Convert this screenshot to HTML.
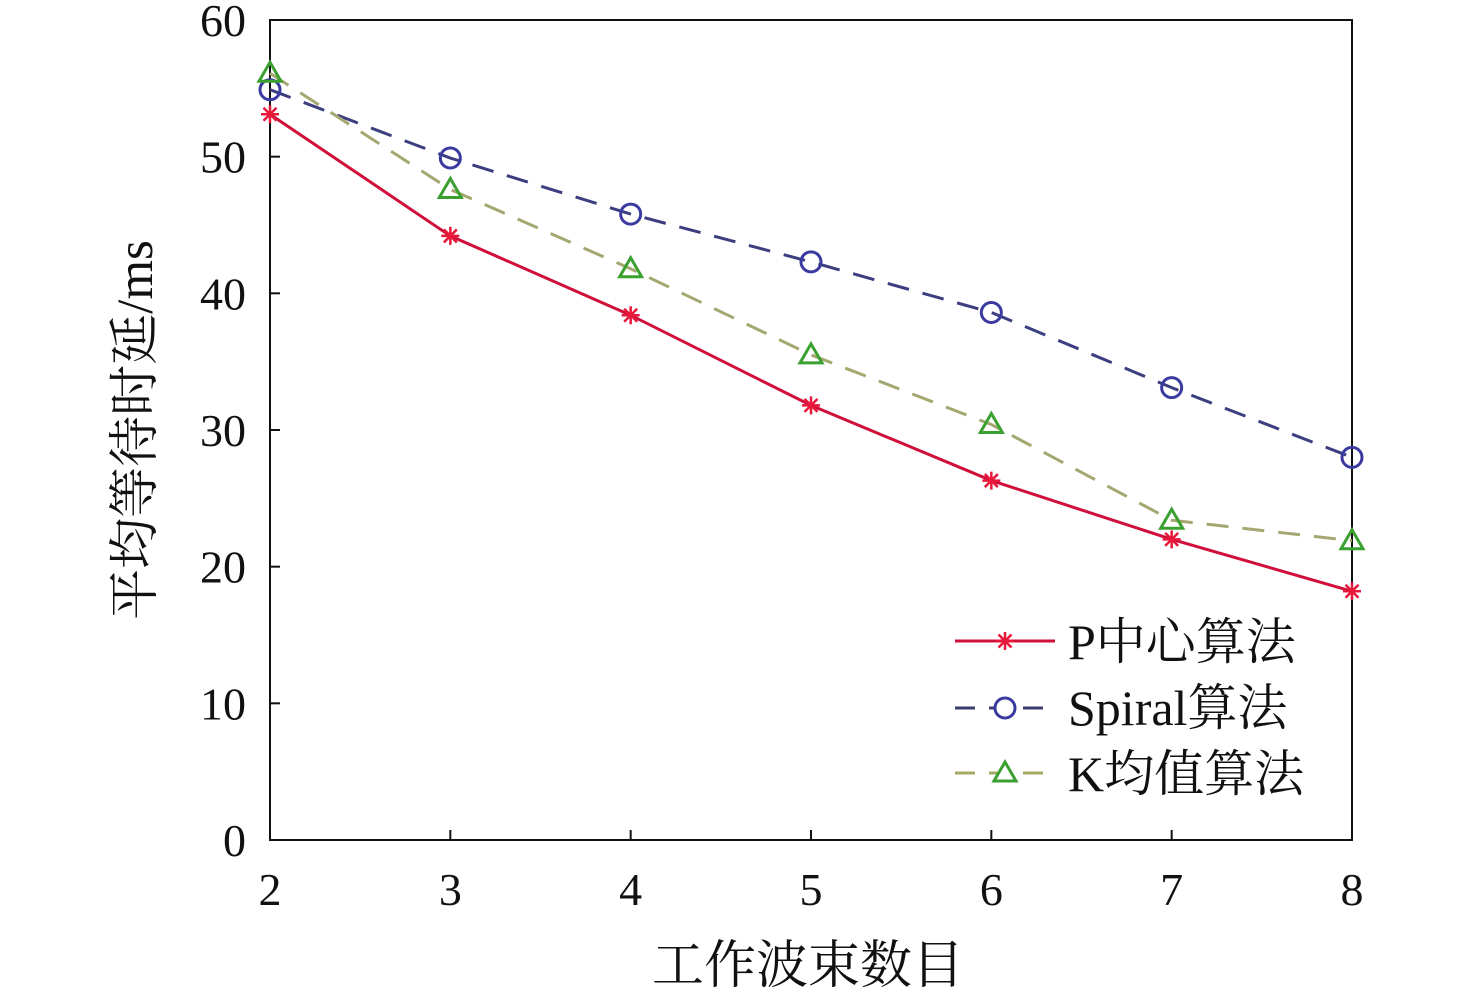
<!DOCTYPE html>
<html><head><meta charset="utf-8"><style>
body{margin:0;background:#fff;}
svg text{font-family:"Liberation Serif","Noto Serif CJK SC",serif;fill:#111;}
</style></head><body>
<svg id="chart" width="1476" height="998" xmlns="http://www.w3.org/2000/svg">
<rect x="270" y="20" width="1082" height="820" fill="none" stroke="#111" stroke-width="2"/>
<g id="axes"></g>
<g id="series"></g>
<text x="808" y="983" font-size="52" text-anchor="middle">工作波束数目</text>
<text transform="translate(152,430) rotate(-90)" font-size="51" text-anchor="middle">平均等待时延/ms</text>
<g>
<line x1="955" y1="641" x2="1055" y2="641" stroke="#d0103a" stroke-width="3"/>
<g id="legAst"></g>
<text x="1068" y="659" font-size="50">P中心算法</text>
<line x1="955" y1="708" x2="1055" y2="708" stroke="#3b3f6f" stroke-width="3" stroke-dasharray="20,14"/>
<circle cx="1005" cy="708" r="10" fill="#fff" stroke="#3a3aa0" stroke-width="3"/>
<text x="1068" y="725" font-size="50">Spiral算法</text>
<line x1="955" y1="773" x2="1055" y2="773" stroke="#a4a860" stroke-width="3" stroke-dasharray="20,14"/>
<polygon points="1005,762 1016,781 994,781" fill="#fff" stroke="#3aa030" stroke-width="3"/>
<text x="1068" y="791" font-size="50">K均值算法</text>
</g>
</svg>
<script>
const categories=[2,3,4,5,6,7,8];
const yTicks=[0,10,20,30,40,50,60];
const pCenter=[53.1,44.2,38.4,31.8,26.3,22.0,18.2];
const spiral=[54.9,49.9,45.8,42.3,38.6,33.1,28.0];
const kMeans=[56.1,47.6,41.8,35.5,30.4,23.4,21.9];
const NS='http://www.w3.org/2000/svg';
const X=v=>270+(v-2)/6*1082;
const Y=v=>840-v/60*820;
function mk(tag,attrs,parent){const e=document.createElementNS(NS,tag);for(const k in attrs)e.setAttribute(k,attrs[k]);parent.appendChild(e);return e;}
const ax=document.getElementById('axes'),sr=document.getElementById('series');
categories.forEach(c=>{
 const t=mk('line',{x1:X(c),x2:X(c),y1:840,y2:830,stroke:'#111','stroke-width':2},ax);
 
 
 const l=mk('text',{x:X(c),y:905,'font-size':46,'text-anchor':'middle'},ax);l.textContent=c;
 
 
});
yTicks.forEach(v=>{
 const t=mk('line',{x1:270,x2:280,y1:Y(v),y2:Y(v),stroke:'#111','stroke-width':2},ax);
 
 
 const l=mk('text',{x:246,y:Y(v)+16,'font-size':46,'text-anchor':'end'},ax);l.textContent=v;
 
 
});
function line(data,color,dash,name){
 const p=mk('polyline',{points:data.map((v,i)=>X(categories[i])+','+Y(v)).join(' '),fill:'none',stroke:color,'stroke-width':3,'stroke-dasharray':dash},sr);
 
 
}
function ast(x,y,g){
 const r=9;
 mk('path',{d:`M${x-r},${y}H${x+r}M${x},${y-r}V${y+r}M${x-6.5},${y-6.5}L${x+6.5},${y+6.5}M${x-6.5},${y+6.5}L${x+6.5},${y-6.5}`,stroke:'#e8183a','stroke-width':2.5,fill:'none'},g);
}
line(pCenter,'#d0103a','none','p-center');
line(spiral,'#3b3f7f','22,14','spiral');
line(kMeans,'#a4a870','22,14','k-means');
ast(1005,641,document.getElementById('legAst'));
pCenter.forEach((v,i)=>{
 const g=mk('g',{},sr);
 
 
 ast(X(categories[i]),Y(v),g);
});
spiral.forEach((v,i)=>{
 const c=mk('circle',{cx:X(categories[i]),cy:Y(v),r:10,fill:'none',stroke:'#3a3aa0','stroke-width':3},sr);
 
 
});
kMeans.forEach((v,i)=>{
 const x=X(categories[i]),y=Y(v);
 const p=mk('polygon',{points:`${x},${y-11} ${x+11},${y+8} ${x-11},${y+8}`,fill:'none',stroke:'#3aa030','stroke-width':3},sr);
 
 
});
</script>
</body></html>
